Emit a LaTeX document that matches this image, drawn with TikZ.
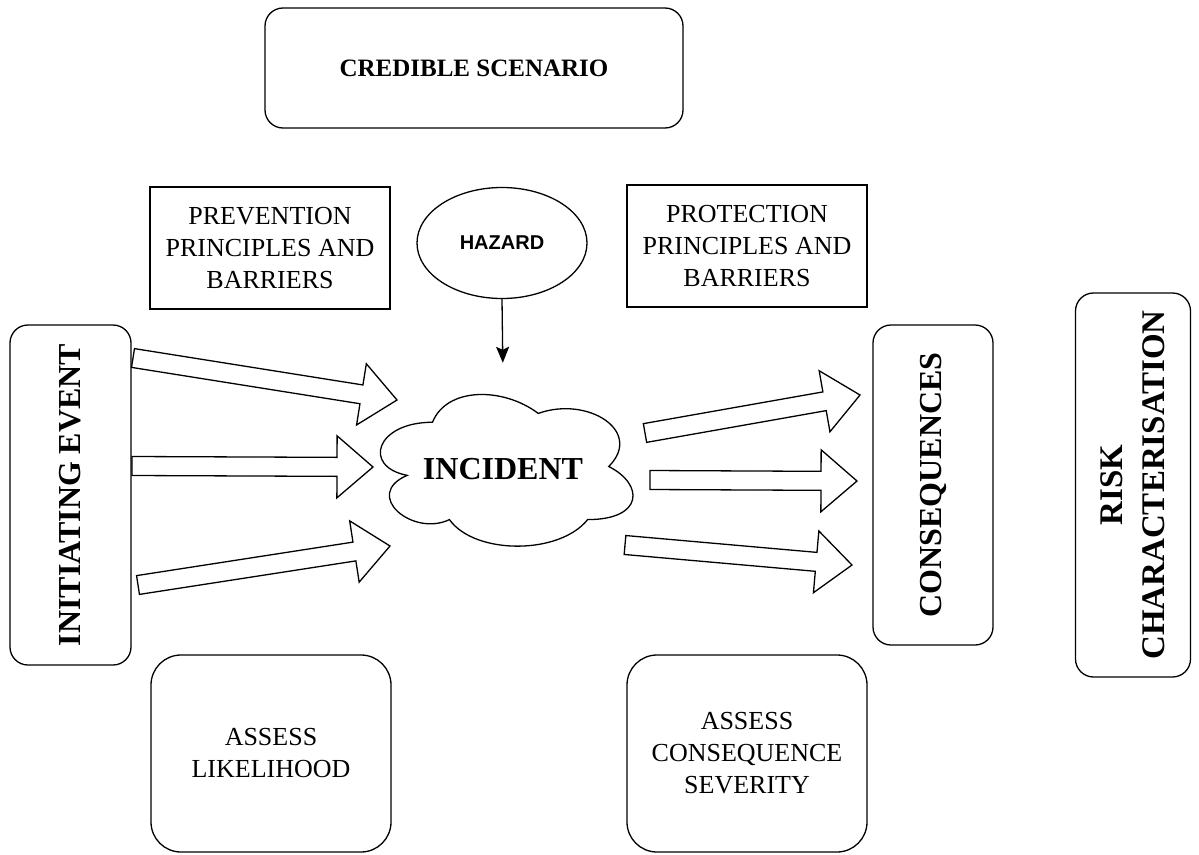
\documentclass[tikz,border=0pt]{standalone}
\usepackage{fontspec}
\setmainfont{Liberation Serif}
\newfontfamily\hzfont{Liberation Sans}
\usetikzlibrary{shapes.geometric,calc,arrows.meta}
\tikzset{
  txt/.style={font=\fontsize{26}{32}\selectfont, align=center, inner sep=0pt},
  boldtxt/.style={font=\fontsize{25}{31}\selectfont\bfseries, align=center, inner sep=0pt},
  bigbold/.style={font=\fontsize{32}{40}\selectfont\bfseries, align=center, inner sep=0pt},
  sqbox/.style={draw, line width=1.3pt, txt},
  rbox/.style={draw, line width=1.3pt, rounded corners=18pt},
  rboxbig/.style={draw, line width=1.3pt, rounded corners=30pt, txt},
  blockarrowsty/.style={draw, fill=white, line width=1.3pt, line join=miter},
  cloudsty/.style={draw, fill=white, line width=1.3pt},
}
\newcommand\blockarrow[2]{%
  \coordinate (ba-c) at ($(#2)!36pt!(#1)$);
  \draw[blockarrowsty] ($(#1)!9.5pt!90:(#2)$) -- ($(ba-c)!9.5pt!90:(#2)$) -- ($(ba-c)!31pt!90:(#2)$) -- (#2) -- ($(ba-c)!31pt!-90:(#2)$) -- ($(ba-c)!9.5pt!-90:(#2)$) -- ($(#1)!9.5pt!-90:(#2)$) -- cycle;}
\begin{document}
\begin{tikzpicture}[x=1pt,y=-1pt]
\useasboundingbox (0,0) rectangle (1199,854);
% top box
\node[rbox, boldtxt, minimum width=418pt, minimum height=120pt] (cred) at (474,68) {CREDIBLE SCENARIO};
% barrier boxes
\node[sqbox, minimum width=240pt, minimum height=122pt] (prev) at (270,248) {PREVENTION\\PRINCIPLES AND\\BARRIERS};
\node[sqbox, minimum width=240pt, minimum height=122pt] (prot) at (747,246) {PROTECTION\\PRINCIPLES AND\\BARRIERS};
% hazard
\node[draw, ellipse, line width=1.3pt, minimum width=170pt, minimum height=111pt, inner sep=0pt, font=\hzfont\fontsize{20}{24}\selectfont\bfseries] (hazard) at (502,243) {HAZARD};
% incident cloud
\begin{scope}[shift={(362,378)}, x=282pt, y=-177pt]
\draw[cloudsty] (0.25,0.25) .. controls (0.05,0.25) and (0,0.5) .. (0.16,0.55)
  .. controls (0,0.66) and (0.18,0.9) .. (0.31,0.8)
  .. controls (0.4,1) and (0.7,1) .. (0.8,0.8)
  .. controls (1,0.8) and (1,0.6) .. (0.875,0.5)
  .. controls (1,0.3) and (0.8,0.1) .. (0.625,0.2)
  .. controls (0.5,0.05) and (0.3,0.05) .. (0.25,0.25) -- cycle;
\end{scope}
\node[rectangle, minimum width=282pt, minimum height=177pt, inner sep=0pt] (incident) at (503,466.5) {};
\node[bigbold] (inctext) at (503,469) {INCIDENT};
\draw[line width=1.3pt, -{Stealth[length=16pt,width=13pt,inset=3pt]}, shorten >=15pt] (hazard.south) -- (incident.north);
% side boxes
\node[rbox, bigbold, rotate=90, minimum width=340pt, minimum height=121pt] (ie) at (70.5,495) {INITIATING EVENT};
\node[rbox, bigbold, rotate=90, minimum width=320pt, minimum height=120pt] (cons) at (933,485) {CONSEQUENCES};
\node[rbox, bigbold, font=\fontsize{33}{42}\selectfont\bfseries, rotate=90, minimum width=384pt, minimum height=115pt] (risk) at (1133,485) {RISK\\CHARACTERISATION};
% assess boxes
\node[rboxbig, minimum width=240pt, minimum height=197pt] (likel) at (271,753.5) {ASSESS\\LIKELIHOOD};
\node[rboxbig, minimum width=240pt, minimum height=197pt] (sev) at (747,753.5) {ASSESS\\CONSEQUENCE\\SEVERITY};
% block arrows
\coordinate (a1s) at (133,358); \coordinate (a1e) at (397,400);
\coordinate (a2s) at (132,466); \coordinate (a2e) at (373,467);
\coordinate (a3s) at (138,585); \coordinate (a3e) at (390,546);
\coordinate (a4s) at (645,433); \coordinate (a4e) at (860,395);
\coordinate (a5s) at (650,480); \coordinate (a5e) at (857,481);
\coordinate (a6s) at (625,545); \coordinate (a6e) at (852,565);
\blockarrow{a1s}{a1e}
\blockarrow{a2s}{a2e}
\blockarrow{a3s}{a3e}
\blockarrow{a4s}{a4e}
\blockarrow{a5s}{a5e}
\blockarrow{a6s}{a6e}
\end{tikzpicture}
\end{document}
